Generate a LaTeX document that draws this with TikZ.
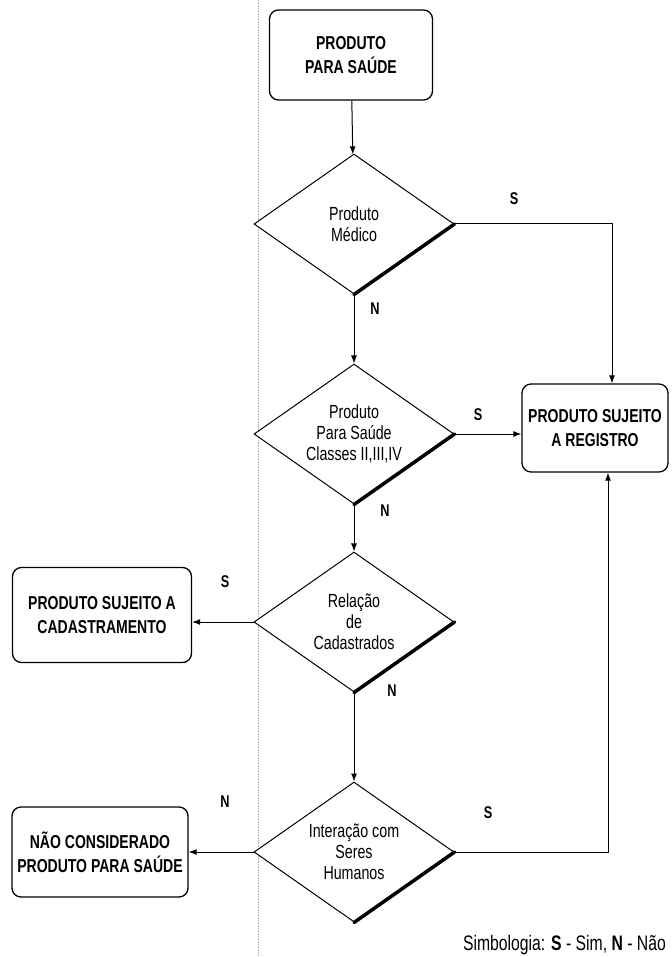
\documentclass[tikz,border=0pt]{standalone}
\usepackage{fontspec}
\setmainfont{Liberation Sans}[FakeStretch=0.75]
\usetikzlibrary{shapes.geometric,arrows.meta}
\tikzset{
	caixa/.style={draw,line width=1.3pt,rounded corners=9pt,fill=white,align=center,inner sep=0pt,font=\fontsize{18.7}{24}\selectfont\bfseries},
	decisao/.style={draw,diamond,line width=1pt,fill=white,align=center,inner sep=0pt,shape aspect=1.43,minimum width=200pt,minimum height=140pt,font=\fontsize{19}{21}\selectfont},
	seta/.style={line width=1pt,-{Latex[length=8pt,width=6pt]}},
	rotulo/.style={font=\fontsize{17}{17}\selectfont\bfseries},
	sombra/.style={line width=3.5pt,line cap=round}
}

\begin{document}
\begin{tikzpicture}[x=1pt,y=-1pt]
	\useasboundingbox (0,0) rectangle (671,957);
	\draw[gray!60,densely dotted,line width=0.6pt] (258,0) -- (258,957);

	\node[caixa,minimum width=163pt,minimum height=90pt] (inicio) at (351,55) {PRODUTO\\PARA SAÚDE};
	\node[decisao] (medico) at (354,224) {Produto\\Médico};
	\node[decisao] (classes) at (354,434) {Produto\\Para Saúde\\Classes II,III,IV};
	\node[decisao] (relacao) at (354,622) {Relação\\de\\Cadastrados};
	\node[decisao] (interacao) at (354,852) {Interação com\\Seres\\Humanos};
	\node[caixa,minimum width=146pt,minimum height=88pt] (registro) at (595,428) {PRODUTO SUJEITO\\A REGISTRO};
	\node[caixa,minimum width=179pt,minimum height=95pt] (cadastro) at (102,615) {PRODUTO SUJEITO A\\CADASTRAMENTO};
	\node[caixa,minimum width=176pt,minimum height=90pt] (naoprod) at (100,852) {NÃO CONSIDERADO\\PRODUTO PARA SAÚDE};

	\foreach \d in {medico,classes,relacao,interacao}
		\draw[sombra] (\d.east) -- (\d.south);

	\draw[seta] (inicio) -- (medico);
	\draw[seta] (medico) -- (classes);
	\draw[seta] (classes) -- (relacao);
	\draw[seta] (relacao) -- (interacao);
	\draw[seta] (medico.east) -| ([xshift=17pt]registro.north);
	\draw[seta] (classes.east) -- (classes.east -| registro.west);
	\draw[seta] (interacao.east) -| ([xshift=13pt]registro.south);
	\draw[seta] (relacao.west) -- (relacao.west -| cadastro.east);
	\draw[seta] (interacao.west) -- (naoprod.east);

	\node[rotulo] (s1) at (514,199) {S};
	\node[rotulo] (n1) at (375,309) {N};
	\node[rotulo] (s2) at (478,415) {S};
	\node[rotulo] (n2) at (385,511) {N};
	\node[rotulo] (s3) at (225,582) {S};
	\node[rotulo] (n3) at (392,691) {N};
	\node[rotulo] (n4) at (225,802) {N};
	\node[rotulo] (s4) at (488,813) {S};

	\node[anchor=east,inner sep=0pt,font=\fontsize{21}{21}\selectfont] (legenda) at (666,945) {Simbologia: \textbf{S} - Sim,\ \textbf{N} - Não};
\end{tikzpicture}
\end{document}
